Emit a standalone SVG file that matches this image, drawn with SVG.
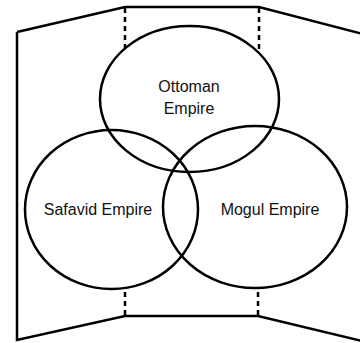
<svg xmlns="http://www.w3.org/2000/svg" width="360" height="343" viewBox="0 0 360 343">
  <style>
    .ln { fill: none; stroke: #000; stroke-width: 2.5; stroke-linejoin: miter; }
    .dash { fill: none; stroke: #000; stroke-width: 2.5; stroke-dasharray: 5 4; }
    .ov { fill: none; stroke: #000; stroke-width: 2.5; }
    .lbl { font-family: "Liberation Sans", Arial, sans-serif; font-size: 16px; fill: #111; text-anchor: middle; }
  </style>
  <rect width="360" height="343" fill="#fff"/>
  <g id="frame">
    <path class="ln" d="M17,32 L125,7 L259,7 L367,35"/>
    <path class="ln" d="M17,32 L17,340 L125,316 L258,316 L366,342"/>
  </g>
  <g id="connectors">
    <line class="dash" x1="125" y1="8" x2="125" y2="49"/>
    <line class="dash" x1="259" y1="8" x2="259" y2="52"/>
    <line class="dash" x1="125" y1="315" x2="125" y2="289"/>
    <line class="dash" x1="258" y1="315" x2="258" y2="288"/>
  </g>
  <g id="ottoman">
    <ellipse class="ov" cx="189.5" cy="99" rx="89.5" ry="73"/>
    <text class="lbl" x="189" y="92">Ottoman</text>
    <text class="lbl" x="189" y="114">Empire</text>
  </g>
  <g id="safavid">
    <ellipse class="ov" cx="111.5" cy="209.5" rx="86.5" ry="79.5"/>
    <text class="lbl" x="98" y="215">Safavid Empire</text>
  </g>
  <g id="mogul">
    <ellipse class="ov" cx="255" cy="207" rx="92" ry="81"/>
    <text class="lbl" x="270" y="215">Mogul Empire</text>
  </g>
</svg>
